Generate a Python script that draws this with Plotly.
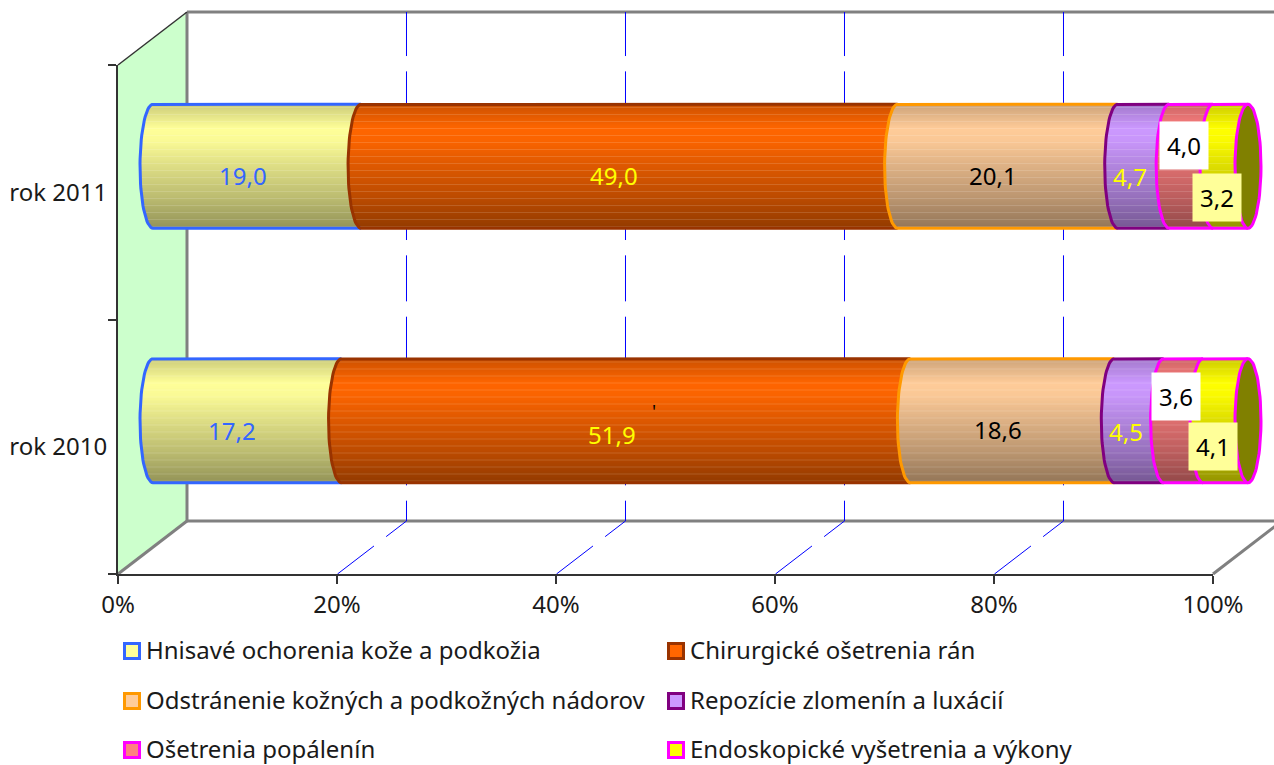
import numpy as np
import plotly.graph_objects as go

categories = ["rok 2010", "rok 2011"]
series_names = ["Hnisavé ochorenia kože a podkožia", "Chirurgické ošetrenia rán",
                "Odstránenie kožných a podkožných nádorov", "Repozície zlomenín a luxácií",
                "Ošetrenia popálenín", "Endoskopické vyšetrenia a výkony"]
hnisave = [17.2, 19.0]
chirurgicke = [51.9, 49.0]
odstranenie = [18.6, 20.1]
repozicie = [4.5, 4.7]
popaleniny = [3.6, 4.0]
endoskopicke = [4.1, 3.2]
series_values = [hnisave, chirurgicke, odstranenie, repozicie, popaleniny, endoskopicke]
value_labels = [["17,2", "19,0"], ["51,9", "49,0"], ["18,6", "20,1"],
                ["4,5", "4,7"], ["3,6", "4,0"], ["4,1", "3,2"]]
x_ticks = [0, 20, 40, 60, 80, 100]

FILLS = ["#FFFF99", "#FF6600", "#FFCC99", "#CC99FF", "#FF8080", "#FFFF00"]
EDGES = ["#3366FF", "#993300", "#FF9900", "#800080", "#FF00FF", "#FF00FF"]
TEXTC = ["#3366FF", "#FFFF00", "#000000", "#FFFF00", "#000000", "#000000"]
LABEL_BG = [None, None, None, None, "#FFFFFF", "#FFFF99"]
# per-label pixel shifts from segment centre: [2010, 2011]
SHIFT = [[(-15, 10), (-14, 9)], [(-14, 14), (-15, 9)], [(-14, 9), (-15, 9)],
         [(-13, 11), (-13, 10)], [(-7, -24), (-7, -21)], [(-13, 26), (-13, 31)]]

W, H = 1274, 765
FONT = "Noto Sans"
FS = 24
X0, X1, YT, YB = 118, 1213, 65, 574      # front plane
DX, DY = 69, -53                          # depth
BX0, BX1 = 153, 1248                      # cylinder axis 0..100 %
SHIFT_Y = -26
A_PX, B_PX = 13, 62                       # end ellipse half-axes
PX = (BX1 - BX0) / 100
YPX = (YB - YT) / 2
a = A_PX / PX
b = B_PX / YPX
px = lambda v: v / W
py = lambda v: 1 - v / H

def shade(hexc, m, white=0):
    c = np.array([int(hexc[i:i + 2], 16) for i in (1, 3, 5)], float)
    c = c * m
    c = c + (255 - c) * white
    return "rgb(%d,%d,%d)" % tuple(np.clip(c, 0, 255))

fig = go.Figure()
fig.add_trace(go.Scatter(x=[None, None], y=categories, xaxis="x", yaxis="y", mode="lines",
                         showlegend=False, hoverinfo="skip"))

rows = np.arange(B_PX * 2)
f = (rows + 0.5) / (B_PX * 2)
t = 2 * f - 1
shear = a * np.sqrt(np.clip(1 - t ** 2, 0, 1))
mult = np.interp(f, [0, .06, .2, .3, .5, .75, 1], [.80, .86, 1, .98, .87, .74, .58])
strip = 1.6 / YPX
totals = [sum(s[i] for s in series_values) for i in range(len(categories))]
cums = [0.0] * len(categories)

for s, vals in enumerate(series_values):
    xs, bases, ys, offs, cols = [], [], [], [], []
    for i, v in enumerate(vals):
        start = cums[i] / totals[i] * 100
        w = v / totals[i] * 100
        for r in rows:
            xs.append(w)
            bases.append(start - shear[r])
            ys.append(i)
            offs.append((1 - 2 * f[r]) * b - strip / 2)
            cols.append(shade(FILLS[s], mult[r], .14 if r % 7 == 3 else 0))
    fig.add_trace(go.Bar(x=xs, y=ys, base=bases, offset=offs, width=strip, orientation="h",
                         marker=dict(color=cols, line=dict(width=0)),
                         xaxis="x2", yaxis="y2", showlegend=False, name=series_names[s], hoverinfo="skip"))
    # outline
    for i, v in enumerate(vals):
        start = cums[i] / totals[i] * 100
        w = v / totals[i] * 100
        ang = np.linspace(np.pi / 2, 3 * np.pi / 2, 40)
        ox = [start + w] + list(start + a * np.cos(ang)) + [start + w]
        oy = [i + b] + list(i + b * np.sin(ang)) + [i - b]
        fig.add_trace(go.Scatter(x=ox, y=oy, mode="lines", line=dict(color=EDGES[s], width=3),
                                 xaxis="x2", yaxis="y2", showlegend=False, hoverinfo="skip"))
    for i, v in enumerate(vals):
        cums[i] += v

for i in range(len(categories)):
    ang = np.linspace(0, 2 * np.pi, 80)
    fig.add_trace(go.Scatter(x=100 + a * np.cos(ang), y=i + b * np.sin(ang), mode="lines", fill="toself",
                             fillcolor="#808000", line=dict(color="#FF00FF", width=3),
                             xaxis="x2", yaxis="y2", showlegend=False, hoverinfo="skip"))

# Walls / gridlines
G = "#808080"
shapes = []
def poly(pts, **kw):
    d = "M" + " L".join(f"{px(x):.5f},{py(y):.5f}" for x, y in pts)
    return dict(type="path", xref="paper", yref="paper", path=d, layer="below", **kw)
shapes.append(poly([(X0, YT), (X0 + DX, YT + DY), (X0 + DX, YB + DY), (X0, YB)], fillcolor="#CCFFCC", line=dict(width=0)))
shapes.append(poly([(X0 + DX, YT + DY), (W + 5, YT + DY)], line=dict(color=G, width=3)))
shapes.append(poly([(X0 + DX, YT + DY), (X0 + DX, YB + DY)], line=dict(color=G, width=3)))
shapes.append(poly([(X0 + DX, YB + DY), (W + 5, YB + DY)], line=dict(color=G, width=3)))
shapes.append(poly([(X0, YB), (X0 + DX, YB + DY)], line=dict(color=G, width=3)))
shapes.append(poly([(X1, YB), (X1 + DX, YB + DY)], line=dict(color=G, width=3)))
shapes.append(poly([(X0, YT), (X0 + DX, YT + DY)], line=dict(color="#333333", width=1.5)))
for v in x_ticks[1:-1]:
    fx = X0 + (X1 - X0) * v / 100 + 0.5
    shapes.append(poly([(fx, YB), (fx + DX, YB + DY), (fx + DX, YT + DY)],
                       line=dict(color="#0000FF", width=1, dash="46px,15.33px")))

# Legend
annotations = []
LEG_X = [(123, 144), (667, 688)]
LEG_Y = [649, 699, 748]
for s, name in enumerate(series_names):
    col, row = s % 2, s // 2
    sx, tx = LEG_X[col]
    cy = LEG_Y[row] + 2
    shapes.append(dict(type="rect", xref="paper", yref="paper", x0=px(sx + 1.5), x1=px(sx + 16.5),
                       y0=py(cy + 7.5), y1=py(cy - 7.5), fillcolor=FILLS[s], line=dict(color=EDGES[s], width=3)))
    annotations.append(dict(xref="paper", yref="paper", x=px(tx), y=py(LEG_Y[row]), text=name, showarrow=False,
                            xanchor="left", yanchor="middle", font=dict(family=FONT, size=FS, color="#1a1a1a")))

# Data labels
cums = [0.0] * len(categories)
for s, vals in enumerate(series_values):
    for i, v in enumerate(vals):
        mid = (cums[i] + v / 2) / totals[i] * 100
        sx, sy = SHIFT[s][i]
        ann = dict(xref="x2", yref="y2", x=mid, y=i, text=value_labels[s][i], showarrow=False,
                   xshift=sx, yshift=-sy, xanchor="center", yanchor="middle",
                   font=dict(family=FONT, size=FS, color=TEXTC[s]))
        if LABEL_BG[s]:
            ann.update(bgcolor=LABEL_BG[s], borderpad=7)
        annotations.append(ann)
        cums[i] += v
annotations.append(dict(xref="paper", yref="paper", x=px(654), y=py(411), text="'", showarrow=False,
                        font=dict(family=FONT, size=18, color="#000000")))

fig.update_layout(
    template="none",
    width=W, height=H, margin=dict(l=0, r=0, t=0, b=0, pad=0), barmode="overlay",
    paper_bgcolor="white", plot_bgcolor="rgba(0,0,0,0)", showlegend=False,
    shapes=shapes, annotations=annotations,
    font=dict(family=FONT, size=FS, color="#1a1a1a"),
    xaxis=dict(domain=[px(X0), px(X1)], range=[0, 100], tickvals=x_ticks, ticktext=[f"{v}%" for v in x_ticks],
               ticks="outside", ticklen=8, tickwidth=1.5, tickcolor="#333333", showgrid=False, zeroline=False,
               showline=True, linecolor="#333333", linewidth=2, anchor="y", automargin=False,
               tickfont=dict(family=FONT, size=FS)),
    yaxis=dict(domain=[py(YB), py(YT)], type="category", categoryorder="array", categoryarray=categories,
               range=[-0.5, 1.5], tickson="boundaries", ticks="outside", ticklen=8, tickwidth=1.5, tickcolor="#333333",
               showgrid=False, zeroline=False, showline=True, linecolor="#333333", linewidth=2, anchor="x",
               automargin=False, ticklabelstandoff=4, tickfont=dict(family=FONT, size=FS)),
    xaxis2=dict(domain=[px(120), 1], range=[(120 - BX0) / PX, (W - BX0) / PX], visible=False, anchor="y2"),
    yaxis2=dict(domain=[py(YB + SHIFT_Y), py(YT + SHIFT_Y)], range=[-0.5, 1.5], visible=False, anchor="x2"),
)
fig.write_html("out.html", config=dict(displayModeBar=False),
               post_script="document.body.style.margin='0';document.body.style.overflow='hidden';")
